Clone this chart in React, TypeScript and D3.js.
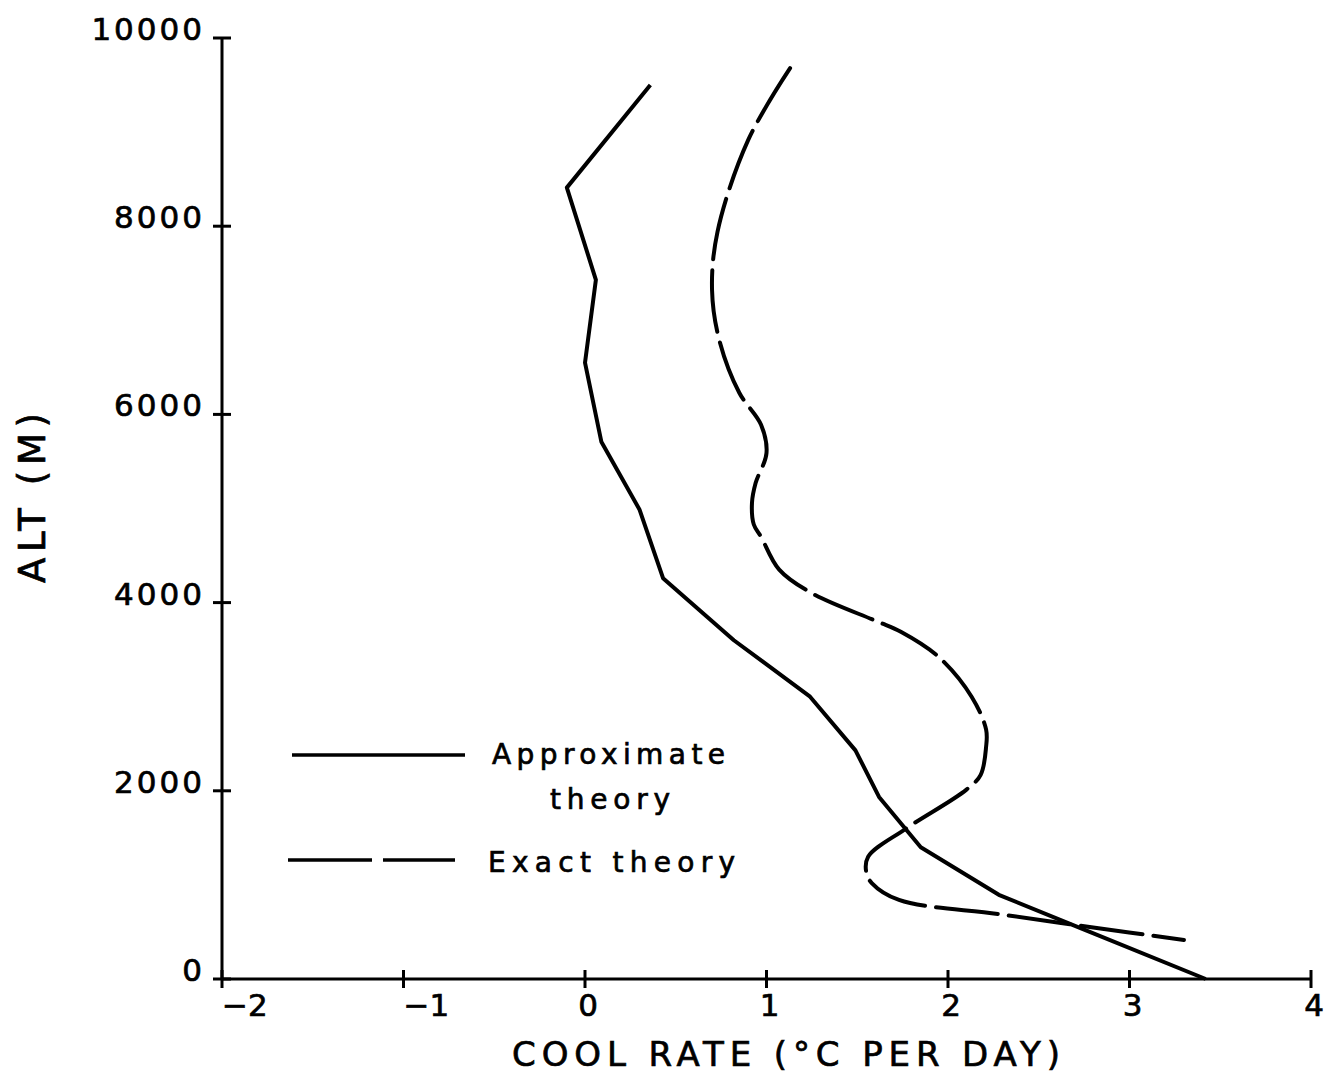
import * as d3 from 'd3';

// Approximate theory (solid) — cooling rate vs altitude
const approxRate = [0.36, -0.1, 0.06, 0.0, 0.09, 0.3, 0.43, 0.82, 1.24, 1.49, 1.62, 1.85, 2.28, 2.73, 3.42];
const approxAlt = [9500, 8410, 7430, 6550, 5710, 4990, 4260, 3600, 3000, 2430, 1935, 1400, 895, 540, 0];

// Exact theory (dashed)
const exactRate = [1.13, 0.9, 0.73, 0.7, 0.74, 0.85, 0.97, 1.0, 0.94, 0.92, 0.93, 0.97, 1.07, 1.25, 1.61, 1.74, 1.95, 2.13, 2.21, 2.21, 2.18, 2.1, 1.77, 1.56, 1.55, 1.58, 1.73, 2.28, 2.79, 3.3];
const exactAlt = [9680, 8920, 7940, 7320, 6790, 6230, 5890, 5590, 5270, 5060, 4830, 4700, 4350, 4100, 3800, 3690, 3420, 3000, 2650, 2470, 2170, 2010, 1600, 1300, 1130, 1020, 840, 690, 550, 415];

const xTicks = [-2, -1, 0, 1, 2, 3, 4];
const yTicks = [0, 2000, 4000, 6000, 8000, 10000];

const legendLabels = ['Approximate', 'theory', 'Exact theory'];

const WIDTH = 1333;
const HEIGHT = 1082;
const FONT = '"DejaVu Sans", sans-serif';

type Pt = { x: number; y: number };

export default function App() {
  const x = d3.scaleLinear().domain([-2, 4]).range([222, 1311]);
  const y = d3.scaleLinear().domain([0, 10000]).range([979, 38]);

  const approx: Pt[] = approxRate.map((r, i) => ({ x: r, y: approxAlt[i] }));
  const exact: Pt[] = exactRate.map((r, i) => ({ x: r, y: exactAlt[i] }));

  const solidLine = d3.line<Pt>().x(d => x(d.x)).y(d => y(d.y));
  const smoothLine = d3
    .line<Pt>()
    .x(d => x(d.x))
    .y(d => y(d.y))
    .curve(d3.curveCatmullRom.alpha(0.5));

  const x0 = x.range()[0];
  const y0 = y.range()[0];

  // plotter-style lettering is a bit heavier than the regular face
  const ink = { fill: '#000', stroke: '#000', strokeWidth: 0.7 };

  return (
    <svg
      width={WIDTH}
      height={HEIGHT}
      style={{ position: 'absolute', left: 0, top: 0, background: '#fff' }}
      fontFamily={FONT}
    >
      <rect width={WIDTH} height={HEIGHT} fill="#fff" />

      {/* axes */}
      <line x1={x0} x2={x0} y1={y(10000)} y2={y0} stroke="#000" strokeWidth={3} />
      <line x1={x0} x2={x(4)} y1={y0} y2={y0} stroke="#000" strokeWidth={3} />

      {yTicks.map(t => (
        <g key={'y' + t}>
          <line x1={x0 - 9} x2={x0 + 9} y1={y(t)} y2={y(t)} stroke="#000" strokeWidth={3} />
          <text x={x0 - 17} y={y(t) + 2} textAnchor="end" fontSize={31} letterSpacing={3} {...ink}>
            {t}
          </text>
        </g>
      ))}

      {xTicks.map(t => (
        <g key={'x' + t}>
          <line x1={x(t)} x2={x(t)} y1={y0 - 9} y2={y0 + 9} stroke="#000" strokeWidth={3} />
          <text
            x={t < 0 ? x(t) : x(t) + 3}
            y={1016}
            textAnchor={t < 0 ? 'start' : 'middle'}
            fontSize={31}
            {...ink}
          >
            {t < 0 ? '\u2212' + Math.abs(t) : t}
          </text>
        </g>
      ))}

      {/* axis titles */}
      <text x={512} y={1066} fontSize={34} textLength={548} lengthAdjust="spacing" {...ink}>
        COOL RATE  (°C PER DAY)
      </text>
      <text
        transform="translate(45,498) rotate(-90)"
        textAnchor="middle"
        fontSize={37}
        textLength={170}
        lengthAdjust="spacing"
        {...ink}
      >
        ALT (M)
      </text>

      {/* series */}
      <path d={solidLine(approx) ?? ''} fill="none" stroke="#000" strokeWidth={4} strokeLinejoin="round" />
      <path
        d={smoothLine(exact) ?? ''}
        fill="none"
        stroke="#000"
        strokeWidth={4}
        strokeDasharray="62 11"
        strokeLinecap="round"
      />

      {/* legend */}
      <line x1={292} x2={465} y1={755} y2={755} stroke="#000" strokeWidth={3.5} />
      <text x={492} y={764} fontSize={28} textLength={233} lengthAdjust="spacing" {...ink}>
        {legendLabels[0]}
      </text>
      <text x={550} y={809} fontSize={28} textLength={120} lengthAdjust="spacing" {...ink}>
        {legendLabels[1]}
      </text>
      <line x1={288} x2={455} y1={860} y2={860} stroke="#000" strokeWidth={3.5} strokeDasharray="84 11" />
      <text x={488} y={872} fontSize={28} textLength={247} lengthAdjust="spacing" {...ink}>
        {legendLabels[2]}
      </text>
    </svg>
  );
}
